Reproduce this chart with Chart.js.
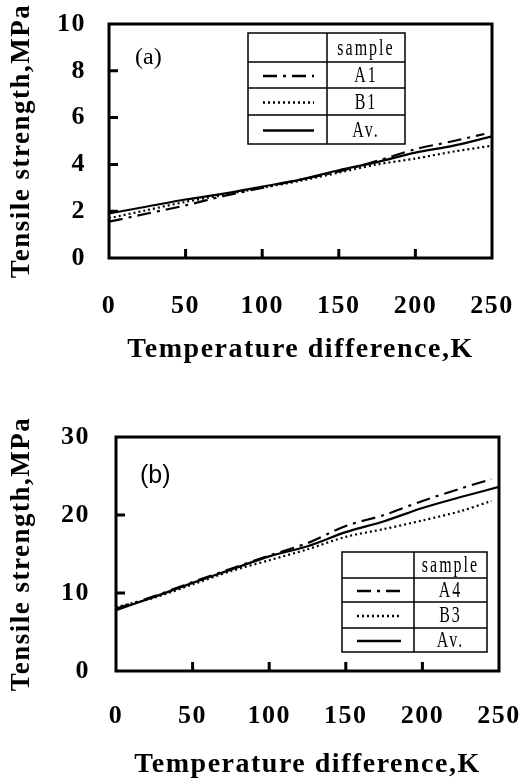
<!DOCTYPE html>
<html>
<head>
<meta charset="utf-8">
<script src="https://cdn.jsdelivr.net/npm/chart.js@4/dist/chart.umd.min.js"></script>
<style>
  body { margin: 0; background: #fff; }
  .wrap { position: absolute; left: 0; width: 531px; }
</style>
</head>
<body>
<div class="wrap" style="top:0;height:390px"><canvas id="chartA" width="531" height="390"></canvas></div>
<div class="wrap" style="top:390px;height:393px"><canvas id="chartB" width="531" height="393"></canvas></div>
<script>
// temperature difference, K
const xA = [0, 25, 50, 75, 100, 125, 150, 175, 200, 225, 250];
const xA1 = [0, 25, 50, 75, 100, 125, 150, 175, 200, 225, 245];
// tensile strength, MPa - panel (a)
const a1Vals = [1.55, 1.9, 2.25, 2.65, 3.0, 3.35, 3.7, 4.15, 4.65, 5.0, 5.3];
const b1Vals = [1.7, 2.05, 2.4, 2.7, 3.0, 3.3, 3.65, 4.0, 4.25, 4.55, 4.8];
const avAVals = [1.9, 2.2, 2.5, 2.75, 3.05, 3.35, 3.75, 4.1, 4.5, 4.8, 5.2];
const namesA = ['A1', 'B1', 'Av.'];

// panel (b)
const xB = [0, 25, 50, 75, 100, 125, 150, 175, 200, 225, 250];
const xB2 = [0, 25, 50, 75, 100, 125, 150, 175, 200, 225, 245];
const a4Vals = [8.0, 9.6, 11.4, 13.1, 14.8, 16.4, 18.6, 20.0, 21.8, 23.4, 24.6];
const b3Vals = [8.2, 9.4, 11.1, 12.8, 14.2, 15.6, 17.2, 18.2, 19.3, 20.5, 21.8];
const avBVals = [7.8, 9.5, 11.3, 13.0, 14.7, 16.0, 17.8, 19.2, 20.9, 22.3, 23.6];
const namesB = ['A4', 'B3', 'Av.'];

const xTicks = [0, 50, 100, 150, 200, 250];
const yTicksA = [0, 2, 4, 6, 8, 10];
const yTicksB = [0, 10, 20, 30];

const dashes = [[14, 6, 3, 6], [2, 3], []];
const serif = '"Liberation Serif", "DejaVu Serif", serif';

function pts(xs, ys) {
  return xs.map((x, i) => ({ x: x, y: ys[i] }));
}

// axis texts of the scan are spread out a little
const spacingPlugin = {
  id: 'spacing',
  beforeDraw(chart) { chart.ctx.letterSpacing = '1.5px'; },
  beforeDatasetsDraw(chart) { chart.ctx.letterSpacing = '0px'; }
};

// frame + inward tick marks
const framePlugin = {
  id: 'frame',
  afterDraw(chart) {
    const ctx = chart.ctx;
    const a = chart.chartArea;
    const xs = chart.scales.x, ys = chart.scales.y;
    ctx.save();
    ctx.strokeStyle = '#000';
    ctx.lineWidth = 3;
    ctx.strokeRect(a.left, a.top, a.right - a.left, a.bottom - a.top);
    ctx.beginPath();
    xs.ticks.forEach(t => {
      if (t.value <= xs.min || t.value >= xs.max) return;
      const px = xs.getPixelForValue(t.value);
      ctx.moveTo(px, a.bottom);
      ctx.lineTo(px, a.bottom - 9);
    });
    ys.ticks.forEach(t => {
      if (t.value <= ys.min || t.value >= ys.max) return;
      const py = ys.getPixelForValue(t.value);
      ctx.moveTo(a.left, py);
      ctx.lineTo(a.left + 9, py);
    });
    ctx.stroke();
    ctx.restore();
  }
};

// legend drawn as the little table of the original
const tablePlugin = {
  id: 'table',
  afterDraw(chart, args, opts) {
    const ctx = chart.ctx;
    const { x0, x1, xm, rows, panel, panelX, panelY, panelFont } = opts;
    ctx.save();
    ctx.strokeStyle = '#000';
    ctx.fillStyle = '#fff';
    ctx.fillRect(x0, rows[0], x1 - x0, rows[rows.length - 1] - rows[0]);
    ctx.lineWidth = 1.5;
    ctx.strokeRect(x0, rows[0], x1 - x0, rows[rows.length - 1] - rows[0]);
    ctx.beginPath();
    ctx.moveTo(xm, rows[0]);
    ctx.lineTo(xm, rows[rows.length - 1]);
    for (let i = 1; i < rows.length - 1; i++) {
      ctx.moveTo(x0, rows[i]);
      ctx.lineTo(x1, rows[i]);
    }
    ctx.stroke();

    const cx = (xm + x1) / 2;
    const labels = ['sample'].concat(chart.data.datasets.map(d => d.label));
    ctx.fillStyle = '#000';
    ctx.textAlign = 'center';
    ctx.textBaseline = 'middle';
    labels.forEach((lab, i) => {
      const cy = (rows[i] + rows[i + 1]) / 2 + 1;
      ctx.save();
      ctx.translate(cx, cy);
      ctx.scale(0.8, 1.15);
      ctx.font = '20px ' + serif;
      ctx.letterSpacing = '2.5px';
      ctx.fillText(lab, 0, 0);
      ctx.restore();
      if (i > 0) {
        const ds = chart.data.datasets[i - 1];
        ctx.save();
        ctx.lineWidth = ds.borderWidth + 0.5;
        ctx.setLineDash(ds.borderDash);
        ctx.beginPath();
        ctx.moveTo(x0 + 15, cy);
        ctx.lineTo(xm - 13, cy);
        ctx.stroke();
        ctx.restore();
      }
    });

    ctx.font = panelFont;
    ctx.textAlign = 'left';
    ctx.fillText(panel, panelX, panelY);
    ctx.restore();
  }
};

function makeChart(id, cfg) {
  const datasets = cfg.series.map((s, i) => ({
    label: cfg.names[i],
    data: pts(s.x, s.y),
    borderColor: '#000',
    borderWidth: 2.2,
    borderDash: dashes[i],
    pointRadius: 0,
    fill: false,
    tension: 0.3
  }));
  return new Chart(document.getElementById(id).getContext('2d'), {
    type: 'line',
    data: { datasets: datasets },
    plugins: [spacingPlugin, framePlugin, tablePlugin],
    options: {
      responsive: false,
      animation: false,
      layout: { padding: { left: 0, right: cfg.padRight, top: cfg.padTop, bottom: 0 } },
      plugins: {
        legend: { display: false },
        tooltip: { enabled: false },
        table: cfg.table
      },
      scales: {
        x: {
          type: 'linear',
          min: 0, max: 250,
          afterBuildTicks: s => { s.ticks = xTicks.map(v => ({ value: v })); },
          afterFit: s => { s.height = cfg.xHeight; s.paddingLeft = 0; s.paddingRight = 0; },
          grid: { display: false, drawTicks: false },
          border: { display: false },
          ticks: { color: '#000', padding: cfg.xPad, maxRotation: 0, font: { family: serif, size: 26, weight: 'bold' } },
          title: {
            display: true, text: 'Temperature difference,K', color: '#000',
            padding: { top: 0, bottom: cfg.xTitlePad },
            font: { family: serif, size: 28, weight: 'bold' }
          }
        },
        y: {
          min: 0, max: cfg.yMax,
          afterBuildTicks: s => { s.ticks = cfg.yTicks.map(v => ({ value: v })); },
          afterFit: s => { s.width = cfg.yWidth; s.paddingTop = 0; s.paddingBottom = 0; },
          grid: { display: false, drawTicks: false },
          border: { display: false },
          ticks: { color: '#000', padding: cfg.yPad, font: { family: serif, size: 26, weight: 'bold' } },
          title: {
            display: true, text: 'Tensile strength,MPa', color: '#000',
            padding: { top: 6, bottom: 0 },
            font: { family: serif, size: 27, weight: 'bold' }
          }
        }
      }
    }
  });
}

makeChart('chartA', {
  series: [{ x: xA1, y: a1Vals }, { x: xA, y: b1Vals }, { x: xA, y: avAVals }],
  names: namesA,
  yMax: 10, yTicks: yTicksA,
  padRight: 39, padTop: 24, xHeight: 132, yWidth: 109,
  xPad: 33, xTitlePad: 23, yPad: 23,
  table: {
    x0: 248, x1: 405, xm: 327, rows: [33, 62, 88, 115, 144],
    panel: '(a)', panelX: 135, panelY: 58, panelFont: '24px ' + serif
  }
});

makeChart('chartB', {
  series: [{ x: xB2, y: a4Vals }, { x: xB2, y: b3Vals }, { x: xB, y: avBVals }],
  names: namesB,
  yMax: 30, yTicks: yTicksB,
  padRight: 32, padTop: 47, xHeight: 112, yWidth: 116,
  xPad: 30, xTitlePad: 1, yPad: 26,
  table: {
    x0: 342, x1: 487, xm: 414, rows: [162, 188, 212, 238, 262],
    panel: '(b)', panelX: 140, panelY: 86, panelFont: '25px "Liberation Sans", Arial, sans-serif'
  }
});
</script>
</body>
</html>
